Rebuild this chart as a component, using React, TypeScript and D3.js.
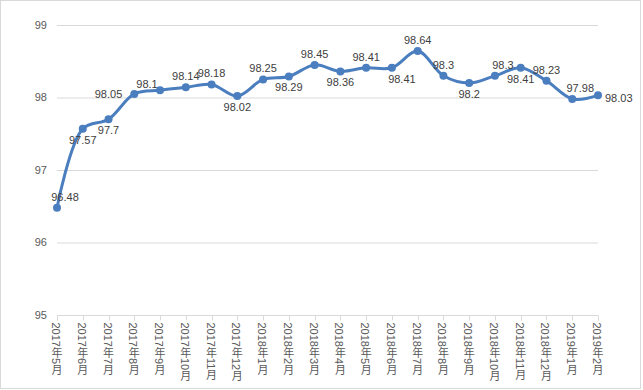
import { useEffect, useRef } from "react";
import * as d3 from "d3";

const months = [
  "2017年5月", "2017年6月", "2017年7月", "2017年8月", "2017年9月", "2017年10月",
  "2017年11月", "2017年12月", "2018年1月", "2018年2月", "2018年3月", "2018年4月",
  "2018年5月", "2018年6月", "2018年7月", "2018年8月", "2018年9月", "2018年10月",
  "2018年11月", "2018年12月", "2019年1月", "2019年2月",
];
const values = [
  96.48, 97.57, 97.7, 98.05, 98.1, 98.14, 98.18, 98.02, 98.25, 98.29, 98.45,
  98.36, 98.41, 98.41, 98.64, 98.3, 98.2, 98.3, 98.41, 98.23, 97.98, 98.03,
];
const yTicks = [95, 96, 97, 98, 99];
// where each data label sits relative to its point
const labelPos = [
  "tr", "b", "b", "l", "tl", "t", "t", "b", "t", "b", "t",
  "b", "t", "br", "t", "t", "b", "tr", "b", "t", "tr", "r",
];

const W = 643;
const H = 390;
const FONT = "'Liberation Sans', 'Noto Sans CJK SC', sans-serif";

const offsets: Record<string, [number, number, string]> = {
  t: [0, -11, "middle"],
  b: [0, 11, "middle"],
  tr: [8, -11, "middle"],
  tl: [-13, -6, "middle"],
  br: [10, 11, "middle"],
  l: [-12, 0, "end"],
  r: [7, 3, "start"],
};

const App = () => {
  const ref = useRef<SVGSVGElement>(null);

  useEffect(() => {
    document.body.style.margin = "0";
    const svg = d3.select(ref.current);
    svg.selectAll("*").remove();

    const x = d3.scalePoint<string>().domain(months).range([57, 598]);
    const y = d3.scaleLinear().domain([95, 99]).range([315, 25]);

    // chart border
    svg.append("rect")
      .attr("x", 0.5).attr("y", 0.5)
      .attr("width", W - 3).attr("height", H - 2)
      .attr("fill", "#fff").attr("stroke", "#d9d9d9");

    // gridlines
    svg.append("g")
      .selectAll("line")
      .data(yTicks.slice(1))
      .enter()
      .append("line")
      .attr("x1", 57).attr("x2", 598)
      .attr("y1", (d) => y(d) + 0.5).attr("y2", (d) => y(d) + 0.5)
      .attr("stroke", "#d9d9d9");

    // x axis
    const xAxis = svg.append("g").attr("transform", `translate(0,${y(95) + 0.5})`);
    xAxis.append("line").attr("x1", 57).attr("x2", 598).attr("stroke", "#d9d9d9");
    xAxis.selectAll("line.tick")
      .data(months)
      .enter()
      .append("line")
      .attr("class", "tick")
      .attr("x1", (d) => Math.round(x(d)!) + 0.5).attr("x2", (d) => Math.round(x(d)!) + 0.5)
      .attr("y1", 0).attr("y2", 5)
      .attr("stroke", "#d9d9d9");
    xAxis.selectAll("text")
      .data(months)
      .enter()
      .append("text")
      .attr("x", (d) => x(d)! - 1)
      .attr("y", 7)
      .style("writing-mode", "vertical-rl")
      .attr("font-family", FONT)
      .attr("font-size", 11)
      .attr("fill", "#595959")
      .text((d) => d);

    // y labels
    svg.append("g")
      .selectAll("text")
      .data(yTicks)
      .enter()
      .append("text")
      .attr("x", 47)
      .attr("y", (d) => y(d))
      .attr("dy", "0.35em")
      .attr("text-anchor", "end")
      .attr("font-family", FONT)
      .attr("font-size", 11)
      .attr("fill", "#595959")
      .text((d) => d);

    // smoothed line
    const line = d3.line<number>()
      .x((_, i) => x(months[i])!)
      .y((d) => y(d))
      .curve(d3.curveCatmullRom.alpha(0.5));

    svg.append("path")
      .datum(values)
      .attr("d", line)
      .attr("fill", "none")
      .attr("stroke", "#4a7ebf")
      .attr("stroke-width", 3)
      .attr("stroke-linejoin", "round");

    svg.append("g")
      .selectAll("circle")
      .data(values)
      .enter()
      .append("circle")
      .attr("cx", (_, i) => x(months[i])!)
      .attr("cy", (d) => y(d))
      .attr("r", 4)
      .attr("fill", "#4a7ebf");

    // data labels
    svg.append("g")
      .selectAll("text")
      .data(values)
      .enter()
      .append("text")
      .attr("x", (_, i) => x(months[i])! + offsets[labelPos[i]][0])
      .attr("y", (d, i) => y(d) + offsets[labelPos[i]][1])
      .attr("dy", "0.35em")
      .attr("text-anchor", (_, i) => offsets[labelPos[i]][2])
      .attr("font-family", FONT)
      .attr("font-size", 11)
      .attr("fill", "#404040")
      .text((d) => d);
  }, []);

  return <svg ref={ref} width={W} height={H} style={{ display: "block" }}></svg>;
};

export default App;
